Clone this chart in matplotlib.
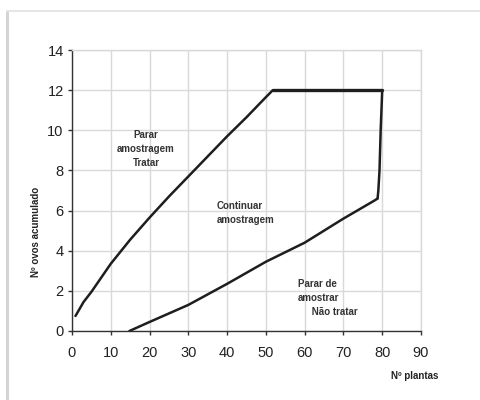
import matplotlib
matplotlib.use("Agg")
import matplotlib.pyplot as plt
from matplotlib.patches import Rectangle

# Decision boundaries for sequential sampling
upper_x = [0.9, 3, 5, 10, 15, 20, 25, 30, 35, 40, 45, 50, 51.8]
upper_y = [0.75, 1.45, 1.95, 3.35, 4.55, 5.65, 6.7, 7.7, 8.7, 9.7, 10.65, 11.65, 12.0]

cap_x = [51.8, 80.0]
cap_y = [12.0, 12.0]

edge_x = [80.0, 79.6, 79.3, 79.0, 78.8]
edge_y = [12.0, 10.0, 8.0, 7.0, 6.6]

lower_x = [78.8, 78.0, 70, 60, 50, 40, 30, 20, 14.8]
lower_y = [6.6, 6.5, 5.6, 4.4, 3.45, 2.35, 1.3, 0.45, 0.0]

x_ticks = [0, 10, 20, 30, 40, 50, 60, 70, 80, 90]
y_ticks = [0, 2, 4, 6, 8, 10, 12, 14]

region_labels = [
    ("Parar\namostragem\nTratar", 19.1, 9.07, "center"),
    ("Continuar\namostragem", 37.4, 5.88, "left"),
    ("Parar de\namostrar\n     Não tratar", 58.3, 1.64, "left"),
]

font = ["Liberation Sans", "DejaVu Sans"]

fig = plt.figure(figsize=(4.8, 4.0), dpi=100)
fig.patch.set_facecolor("white")

# soft frame edges
fig.add_artist(Rectangle((6 / 480, 0), 3 / 480, 1 - 11 / 400,
                         transform=fig.transFigure, color="#d4d4d4", lw=0))
fig.add_artist(Rectangle((6 / 480, 1 - 12 / 400), 1, 2 / 400,
                         transform=fig.transFigure, color="#e6e6e6", lw=0))

ax = fig.add_axes([72 / 480, 69 / 400, 349 / 480, 281 / 400])

line_kw = dict(color="#1e1e1e", lw=1.8, solid_capstyle="round", solid_joinstyle="round")
ax.plot(upper_x, upper_y, **line_kw)
ax.plot(cap_x, cap_y, color="#1e1e1e", lw=2.4, solid_capstyle="round")
ax.plot(edge_x, edge_y, **line_kw)
ax.plot(lower_x, lower_y, **line_kw)

ax.set_xlim(0, 90)
ax.set_ylim(0, 14)
ax.set_xticks(x_ticks)
ax.set_yticks(y_ticks)
ax.grid(True, color="#d9d9d9", lw=1.0)
ax.set_axisbelow(True)

for side in ("top", "right"):
    ax.spines[side].set_color("#d9d9d9")
    ax.spines[side].set_linewidth(1.0)
for side in ("left", "bottom"):
    ax.spines[side].set_color("#333333")
    ax.spines[side].set_linewidth(1.0)

ax.tick_params(axis="both", direction="out", length=3, width=1.0, color="#333333",
               labelsize=10.5, labelcolor="#222222", pad=3)
ax.tick_params(axis="x", pad=8)
for lbl in ax.get_xticklabels() + ax.get_yticklabels():
    lbl.set_family(font)

for text, x, y, ha in region_labels:
    ax.text(x, y, text, ha=ha, va="center", fontsize=7, fontweight="bold",
            family=font, color="#333333", linespacing=1.5)

fig.text(415 / 480, 1 - 376 / 400, "Nº plantas", ha="center", va="center",
         fontsize=7, fontweight="bold", family=font, color="#222222")
fig.text(36 / 480, 1 - 232 / 400, "Nº ovos acumulado", ha="center", va="center",
         rotation=90, fontsize=7, fontweight="bold", family=font, color="#222222")

fig.savefig("out.png", dpi=100, facecolor="white")
